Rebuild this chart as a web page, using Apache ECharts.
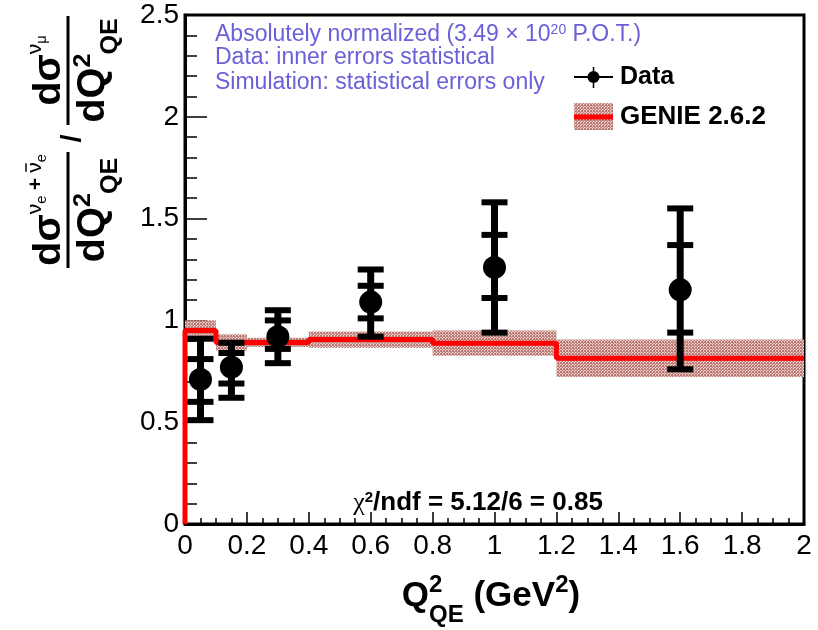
<!DOCTYPE html>
<html>
<head>
<meta charset="utf-8">
<title>nue / numu ratio vs Q2</title>
<script src="https://cdn.jsdelivr.net/npm/echarts@6/dist/echarts.min.js"></script>
<style>
  html, body { margin: 0; padding: 0; background: #fff; }
  #main { width: 818px; height: 630px; }
</style>
</head>
<body>
<div id="main"></div>
<script>
// data points: bin centre, value, stat errors (inner), total errors (outer)
var q2 = [0.05, 0.15, 0.3, 0.6, 1.0, 1.6];
var ratio = [0.71, 0.77, 0.92, 1.09, 1.26, 1.15];
var statLo = [0.60, 0.69, 0.86, 1.01, 1.11, 0.94];
var statHi = [0.81, 0.84, 1.00, 1.17, 1.42, 1.37];
var totLo = [0.51, 0.62, 0.79, 0.92, 0.94, 0.76];
var totHi = [0.91, 0.89, 1.05, 1.25, 1.58, 1.55];

// GENIE 2.6.2 prediction (histogram + stat band)
var binEdges = [0, 0.1, 0.2, 0.4, 0.8, 1.2, 2.0];
var genie = [0.95, 0.892, 0.892, 0.906, 0.888, 0.814];
var genieErr = [0.05, 0.04, 0.023, 0.04, 0.062, 0.092];

var xTickLabels = ['0', '0.2', '0.4', '0.6', '0.8', '1', '1.2', '1.4', '1.6', '1.8', '2'];
var yTickLabels = ['0', '0.5', '1', '1.5', '2', '2.5'];

var FAM = '"Liberation Sans", Arial, Helvetica, sans-serif';
var blue = '#6b60d8';

// hatched fill for the band
var pc = document.createElement('canvas');
pc.width = 3; pc.height = 3;
var pg = pc.getContext('2d');
pg.fillStyle = '#f0dedc'; pg.fillRect(0, 0, 3, 3);
pg.fillStyle = '#bd7a74';
pg.fillRect(0, 0, 1, 1); pg.fillRect(2, 0, 1, 1); pg.fillRect(1, 1, 1, 1); pg.fillRect(0, 2, 1, 1); pg.fillRect(2, 2, 1, 1);
pg.fillStyle = '#d6a6a2';
pg.fillRect(1, 0, 1, 1); pg.fillRect(0, 1, 1, 1);
var bandFill = { image: pc, repeat: 'repeat' };

var bandData = [];
var stepPts = [[binEdges[0], 0]];
for (var i = 0; i < genie.length; i++) {
  bandData.push([binEdges[i], binEdges[i + 1], genie[i] - genieErr[i], genie[i] + genieErr[i]]);
  stepPts.push([binEdges[i], genie[i]]);
  stepPts.push([binEdges[i + 1], genie[i]]);
}
var errData = q2.map(function (x, i) {
  return [x, ratio[i], totLo[i], totHi[i], statLo[i], statHi[i]];
});
var ptData = q2.map(function (x, i) { return [x, ratio[i]]; });

// text helpers
var mctx = document.createElement('canvas').getContext('2d');
function fnt(fs, bold) { return (bold ? 'bold ' : '') + fs + 'px ' + FAM; }
function tw(t, f) { mctx.font = f; return mctx.measureText(t).width; }
function txt(t, x, base, fs, bold, fill, fam) {
  return {
    type: 'text', x: x, y: base - 0.35 * fs,
    style: { text: t, font: (bold ? 'bold ' : '') + fs + 'px ' + (fam || FAM), fill: fill || '#000', align: 'left', verticalAlign: 'middle' }
  };
}
function runWidth(items) {
  var w = 0;
  items.forEach(function (it) { w += (it.gap || 0) + tw(it.t, fnt(it.fs, it.bold)); });
  return w;
}
function layRuns(items, u, out) {
  items.forEach(function (it) {
    u += it.gap || 0;
    var w = tw(it.t, fnt(it.fs, it.bold));
    out.push(txt(it.t, u, it.v, it.fs, it.bold));
    if (it.bar) {
      out.push({ type: 'line', shape: { x1: u + 1, y1: it.bar, x2: u + w - 1, y2: it.bar }, style: { stroke: '#000', lineWidth: 1.5 } });
    }
    u += w;
  });
  return u;
}

// y title: (dsigma(nue+nuebar)/dQ2) / (dsigma(numu)/dQ2), rotated
var barV = 68;
function fraction(num, den, u0, out) {
  var wn = runWidth(num), wd = runWidth(den), w = Math.max(wn, wd) + 4;
  layRuns(num, u0 + (w - wn) / 2, out);
  layRuns(den, u0 + (w - wd) / 2, out);
  out.push({ type: 'line', shape: { x1: u0, y1: barV, x2: u0 + w, y2: barV }, style: { stroke: '#000', lineWidth: 3 } });
  return u0 + w;
}
var denom = [
  { t: 'dQ', fs: 38, bold: true, v: 107 },
  { t: '2', fs: 24, bold: true, v: 92 },
  { t: 'QE', fs: 24, bold: true, v: 119, gap: -1 }
];
var num1 = [
  { t: 'd\u03c3', fs: 38, bold: true, v: 63 },
  { t: '\u03bd', fs: 20, v: 42 },
  { t: 'e', fs: 14, v: 47 },
  { t: '+', fs: 20, bold: true, v: 43, gap: 5 },
  { t: '\u03bd', fs: 20, v: 42, gap: 5, bar: 26 },
  { t: 'e', fs: 14, v: 47 }
];
var num2 = [
  { t: 'd\u03c3', fs: 38, bold: true, v: 63 },
  { t: '\u03bd', fs: 20, v: 42 },
  { t: '\u03bc', fs: 14, v: 47 }
];
var yTitle = [];
var u = fraction(num1, denom, 0, yTitle);
u += 9;
yTitle.push(txt('/', u, 82, 28, true));
u += tw('/', fnt(28, true)) + 9;
u = fraction(num2, denom, u, yTitle);
var ySpan = 252;

// x title: Q2_QE (GeV2)
var xTitle = [];
(function () {
  var base = 609, fs = 35, fsS = 24;
  var wQ = tw('Q', fnt(fs, true)), w2 = tw('2', fnt(fsS, true)), wQE = tw('QE', fnt(fsS, true));
  var wRest = tw(' (GeV', fnt(fs, true)), wClose = tw(')', fnt(fs, true));
  var total = wQ + Math.max(w2, wQE) + wRest + w2 + wClose;
  var x = 491 - total / 2;
  xTitle.push(txt('Q', x, base, fs, true)); x += wQ;
  xTitle.push(txt('2', x, base - 15, fsS, true));
  xTitle.push(txt('QE', x, base + 15, fsS, true)); x += Math.max(w2, wQE);
  xTitle.push(txt(' (GeV', x, base, fs, true)); x += wRest;
  xTitle.push(txt('2', x, base - 15, fsS, true)); x += w2;
  xTitle.push(txt(')', x, base, fs, true));
})();

var chart = echarts.init(document.getElementById('main'));

var option = {
  animation: false,
  backgroundColor: '#fff',
  grid: { left: 185, top: 15, width: 619, height: 509, show: true, borderColor: '#000', borderWidth: 3 },
  xAxis: {
    type: 'value', min: 0, max: 2, interval: 0.2,
    axisLine: { lineStyle: { color: '#000', width: 3 } },
    axisTick: { inside: true, length: 12, lineStyle: { color: '#000', width: 1.5 } },
    minorTick: { show: true, splitNumber: 4, length: 6, lineStyle: { color: '#000', width: 1.5 } },
    splitLine: { show: false },
    axisLabel: {
      color: '#000', fontSize: 28, fontFamily: FAM, margin: 8,
      formatter: function (v) { return xTickLabels[Math.round(v / 0.2)]; }
    }
  },
  yAxis: {
    type: 'value', min: 0, max: 2.5, interval: 0.5,
    axisLine: { lineStyle: { color: '#000', width: 3 } },
    axisTick: { inside: true, length: 22, lineStyle: { color: '#000', width: 1.5 } },
    minorTick: { show: true, splitNumber: 5, length: 12, lineStyle: { color: '#000', width: 1.5 } },
    splitLine: { show: false },
    axisLabel: {
      color: '#000', fontSize: 28, fontFamily: FAM, margin: 6,
      formatter: function (v) { return yTickLabels[Math.round(v / 0.5)]; }
    }
  },
  series: [
    {
      type: 'custom', name: 'GENIE band', z: 1,
      data: bandData,
      encode: { x: [0, 1], y: [2, 3] },
      renderItem: function (params, api) {
        var a = api.coord([api.value(0), api.value(3)]);
        var b = api.coord([api.value(1), api.value(2)]);
        return { type: 'rect', shape: { x: a[0], y: a[1], width: b[0] - a[0], height: b[1] - a[1] }, style: { fill: bandFill } };
      }
    },
    {
      type: 'line', name: 'GENIE 2.6.2', z: 2,
      data: stepPts, showSymbol: false, symbol: 'none',
      lineStyle: { color: '#ff0000', width: 5 }
    },
    {
      type: 'custom', name: 'Data errors', z: 3,
      data: errData,
      encode: { x: 0, y: [2, 3] },
      renderItem: function (params, api) {
        var x = api.value(0);
        var lo = api.coord([x, api.value(2)]), hi = api.coord([x, api.value(3)]);
        var ilo = api.coord([x, api.value(4)]), ihi = api.coord([x, api.value(5)]);
        var hw = 13, th = 6, st = { fill: '#000' };
        function cap(p) { return { type: 'rect', shape: { x: p[0] - hw, y: p[1] - th / 2, width: 2 * hw, height: th }, style: st }; }
        return {
          type: 'group',
          children: [
            { type: 'rect', shape: { x: lo[0] - 3.5, y: hi[1], width: 7, height: lo[1] - hi[1] }, style: st },
            cap(lo), cap(hi), cap(ilo), cap(ihi)
          ]
        };
      }
    },
    {
      type: 'scatter', name: 'Data', z: 4,
      data: ptData, symbol: 'circle', symbolSize: 23,
      itemStyle: { color: '#000', opacity: 1 }
    }
  ],
  graphic: [
    { type: 'group', x: 0, y: 268, rotation: Math.PI / 2, scaleX: ySpan / u, children: yTitle },
    { type: 'group', children: xTitle },
    {
      type: 'text', x: 215, y: 35,
      style: {
        text: '{n|Absolutely normalized (3.49 \u00d7 10}{s|20}{n| P.O.T.)}',
        verticalAlign: 'middle',
        rich: {
          n: { font: fnt(23), fill: blue, lineHeight: 24 },
          s: { font: fnt(14), fill: blue, lineHeight: 14, verticalAlign: 'top' }
        }
      }
    },
    { type: 'text', x: 215, y: 58, style: { text: 'Data: inner errors statistical', font: fnt(23), fill: blue, verticalAlign: 'middle' } },
    { type: 'text', x: 215, y: 83, style: { text: 'Simulation: statistical errors only', font: fnt(23), fill: blue, verticalAlign: 'middle' } },
    // legend
    { type: 'line', shape: { x1: 574, y1: 77, x2: 613, y2: 77 }, style: { stroke: '#000', lineWidth: 2 } },
    { type: 'line', shape: { x1: 593.5, y1: 67, x2: 593.5, y2: 88 }, style: { stroke: '#000', lineWidth: 1.5 } },
    { type: 'circle', shape: { cx: 593.5, cy: 77, r: 6 }, style: { fill: '#000' } },
    { type: 'text', x: 620, y: 77, style: { text: 'Data', font: fnt(25, true), fill: '#000', verticalAlign: 'middle' } },
    { type: 'rect', shape: { x: 574, y: 103, width: 39, height: 27 }, style: { fill: bandFill } },
    { type: 'rect', shape: { x: 574, y: 114.5, width: 39, height: 5 }, style: { fill: '#ff0000' } },
    { type: 'text', x: 620, y: 117, style: { text: 'GENIE 2.6.2', font: fnt(26, true), fill: '#000', verticalAlign: 'middle' } },
    // chi2 / ndf
    {
      type: 'text', x: 478, y: 503,
      style: {
        text: '{c|\u03c7}{s|2}{b|/ndf = 5.12/6 = 0.85}',
        align: 'center', verticalAlign: 'middle',
        rich: {
          c: { font: '26px "Liberation Serif", serif', fill: '#000', lineHeight: 26 },
          s: { font: fnt(15, true), fill: '#000', lineHeight: 15, verticalAlign: 'top' },
          b: { font: fnt(26, true), fill: '#000', lineHeight: 26 }
        }
      }
    }
  ]
};

chart.setOption(option);
</script>
</body>
</html>
